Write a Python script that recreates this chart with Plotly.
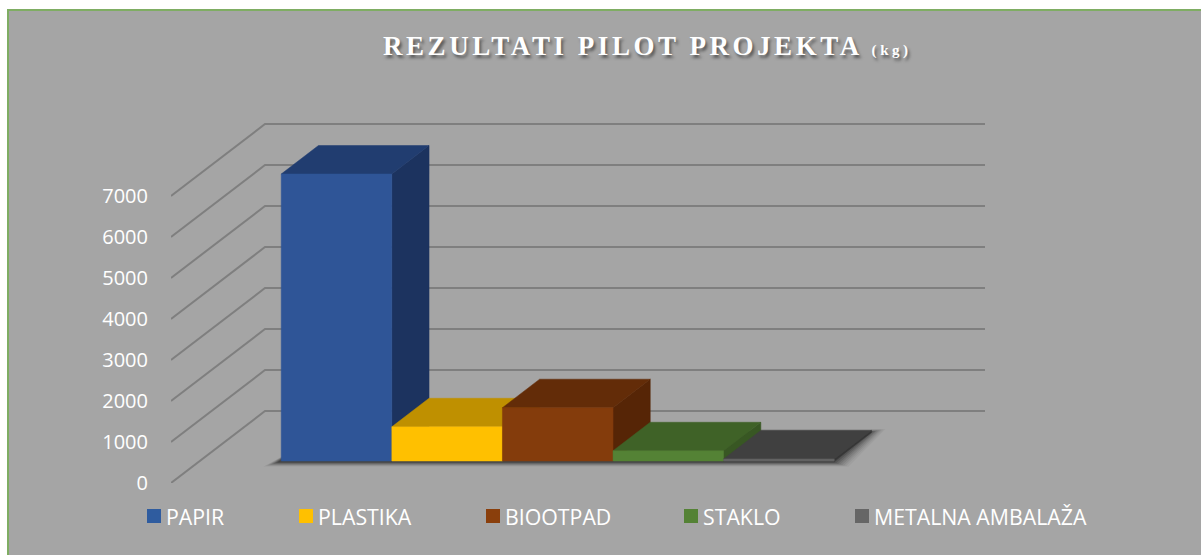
import plotly.graph_objects as go

CATEGORIES = ["PAPIR", "PLASTIKA", "BIOOTPAD", "STAKLO", "METALNA AMBALAŽA"]
VALUES = [7000, 835, 1300, 250, 50]
TICKS = [0, 1000, 2000, 3000, 4000, 5000, 6000, 7000]

FRONT = ["#2F5597", "#FFC000", "#843C0C", "#548235", "#636363"]
TOP = ["#213D70", "#BF9000", "#632C08", "#3F6227", "#404040"]
SIDE = ["#1C335F", "#A67C00", "#562506", "#385723", "#363636"]
SWATCH = ["#2F5C9F", "#FFC000", "#8A3F0C", "#548235", "#666666"]
LEGEND_PX = [147, 299, 486, 684, 855]

# plot window in pixels
L, R, T, B = 171, 985, 114, 483
PX_PER_VALUE = (B - T) / 9000
PX_PER_CAT = 110.6
DEPTH_DX_PX, DEPTH_DY_PX = 94, 72
DEPTH_X = DEPTH_DX_PX / PX_PER_CAT
DEPTH_Y = DEPTH_DY_PX / PX_PER_VALUE
D_FRONT, D_BACK = 22 / 72, 50.5 / 72
X0 = -1.237
X1 = X0 + (R - L) / PX_PER_CAT


def pr(x, v, d):
    return x + d * DEPTH_X, v + d * DEPTH_Y


def poly(points, color, name, width=0.5):
    xs = [p[0] for p in points] + [points[0][0]]
    ys = [p[1] for p in points] + [points[0][1]]
    return go.Scatter(
        x=xs, y=ys, mode="lines", fill="toself", fillcolor=color,
        line=dict(color=color, width=width), name=name, hoverinfo="name",
        showlegend=False, cliponaxis=False,
    )


fig = go.Figure()

# walls: diagonal + back line per tick
gx, gy = [], []
for t in TICKS:
    gx += [X0, X0 + DEPTH_X, X1, None]
    gy += [t, t + DEPTH_Y, t + DEPTH_Y, None]
fig.add_trace(go.Scatter(x=gx, y=gy, mode="lines", line=dict(color="#7F7F7F", width=2),
                         hoverinfo="skip", showlegend=False, cliponaxis=False))

# soft floor shadow: nested translucent layers, widest and faintest first
n = len(CATEGORIES)
for grow, alpha in [(14, 0.05), (12, 0.06), (10, 0.08), (8, 0.10), (6, 0.13), (4, 0.17), (2, 0.22), (0, 0.28)]:
    gx_ = grow / PX_PER_CAT
    gy_ = (1.5 + grow * 0.3) / PX_PER_VALUE
    a = pr(-0.5, -gy_, D_FRONT)
    a = (a[0] - (4 + grow * 1.0) / PX_PER_CAT, a[1])
    b = pr(n - 0.5 + gx_, -gy_, D_FRONT)
    c = pr(n - 0.5 + gx_, gy_ * 0.6, D_BACK)
    d = pr(-0.5 + gx_, gy_ * 0.6, D_BACK)
    fig.add_trace(poly([a, b, c, d], f"rgba(30,30,30,{alpha})", "shadow", width=0))

# bars, far (left) to near (right)
base = 0
for i, (cat, val) in enumerate(zip(CATEGORIES, VALUES)):
    x0, x1 = i - 0.5, i + 0.5
    fig.add_trace(poly([pr(x1, base, D_FRONT), pr(x1, val, D_FRONT),
                        pr(x1, val, D_BACK), pr(x1, base, D_BACK)], SIDE[i], cat))
    fig.add_trace(poly([pr(x0, val, D_FRONT), pr(x1, val, D_FRONT),
                        pr(x1, val, D_BACK), pr(x0, val, D_BACK)], TOP[i], cat))
    fig.add_trace(poly([pr(x0, base, D_FRONT), pr(x1, base, D_FRONT),
                        pr(x1, val, D_FRONT), pr(x0, val, D_FRONT)], FRONT[i], cat))


def px(x):
    return (x - L) / (R - L)


def py(y):
    return (B - y) / (B - T)


shapes = [dict(type="rect", xref="paper", yref="paper", x0=px(8), x1=px(1300), y0=py(10), y1=py(700),
               fillcolor="#A5A5A5", line=dict(color="#7FAD63", width=2), layer="below")]
annotations = []
for x, cat, col in zip(LEGEND_PX, CATEGORIES, SWATCH):
    shapes.append(dict(type="rect", xref="paper", yref="paper", x0=px(x), x1=px(x + 14),
                       y0=py(523), y1=py(509), fillcolor=col, line=dict(width=0), layer="above"))
    annotations.append(dict(text=cat, xref="paper", yref="paper", x=px(x + 17), y=py(516),
                            xanchor="left", yanchor="middle", showarrow=False,
                            font=dict(family="Open Sans", size=21.3, color="#FFFFFF")))

fig.update_layout(
    width=1201, height=555,
    margin=dict(l=L, r=1201 - R, t=T, b=555 - B, autoexpand=False),
    paper_bgcolor="#FFFFFF", plot_bgcolor="rgba(0,0,0,0)",
    showlegend=False, shapes=shapes, annotations=annotations,
    title=dict(text='REZULTATI PILOT PROJEKTA <span style="font-size:15px">(kg)</span>',
               xref="container", yref="container", x=383 / 1201, xanchor="left",
               y=1 - 46 / 555, yanchor="middle",
               font=dict(family="Liberation Serif", size=27, color="#FFFFFF",
                         weight="bold", shadow="2px 3px 3px #5a5a5a")),
    xaxis=dict(visible=False, range=[X0, X1]),
    yaxis=dict(range=[0, 9000], tickvals=TICKS, showgrid=False, zeroline=False, showline=False,
               ticks="outside", ticklen=18, tickcolor="rgba(0,0,0,0)", tickwidth=1,
               tickfont=dict(family="Open Sans", size=20, color="#FFFFFF")),
)

PAGE = ("document.body.style.margin='0';"
        "document.querySelectorAll('.gtitle').forEach(function(e){e.style.letterSpacing='3.55px';});")
fig.write_html("out.html", post_script=PAGE, config={"displayModeBar": False})
